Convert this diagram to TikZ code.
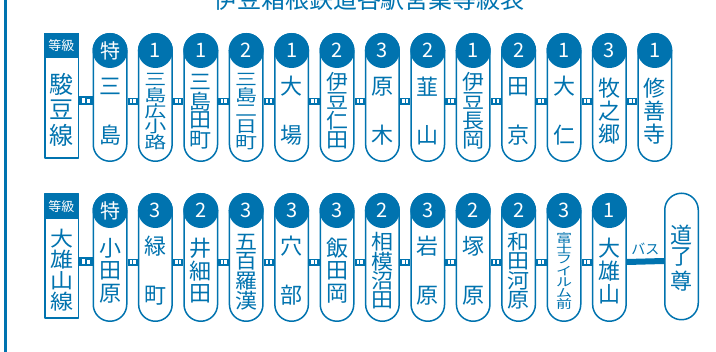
\documentclass[tikz,border=0pt]{standalone}
\usepackage{fontspec}
\setmainfont{Noto Sans CJK JP}
\usepackage{graphicx}
\usepackage{xcolor}
\usepackage{tikz}
\usetikzlibrary{calc,positioning}
\definecolor{izublue}{RGB}{0,115,175}

\tikzset{
  pill/.style={draw=izublue,line width=1.5pt,fill=white,rounded corners=16.75pt,
    minimum width=33.5pt,minimum height=127.5pt,inner sep=0pt},
  grade/.style={circle,fill=izublue,text=white,minimum size=35pt,inner sep=0pt,
    font=\fontsize{20}{20}\selectfont},
  kanji/.style={text=izublue,inner sep=0pt,font=\fontsize{#1}{#1}\selectfont},
  linebox/.style={draw=izublue,line width=1.5pt,fill=white,minimum width=33.5pt,
    minimum height=124.5pt,inner sep=0pt},
  linetag/.style={fill=izublue,text=white,minimum width=35pt,minimum height=25pt,
    inner sep=0pt,font=\fontsize{13}{13}\selectfont},
}
% rail tie between two stations, #3 = drop below centre
\newcommand{\railtie}[3]{%
  \fill[izublue] ($(#1.east)+(0,#3-3.5)$) rectangle ($(#2.west)+(0,#3+3.5)$);
  \fill[white] ($(#1.east)!0.22!(#2.west)+(0,#3-2)$) rectangle ($(#1.east)!0.46!(#2.west)+(0,#3+2)$);
  \fill[white] ($(#1.east)!0.56!(#2.west)+(0,#3-2)$) rectangle ($(#1.east)!0.80!(#2.west)+(0,#3+2)$);
}

\begin{document}
\begin{tikzpicture}[x=1pt,y=-1pt,line cap=round,line join=round]
\useasboundingbox (0,0) rectangle (716,352);
\draw[izublue,line width=2.5pt] (5.5,-2) -- (5.5,354);
\node[anchor=south,text=izublue,inner sep=0pt,font=\fontsize{24}{24}\selectfont] (title) at (369,11) {伊豆箱根鉄道各駅営業等級表};

% --- row 1
\node[linebox] (box1) at (61.5,96) {};
\node[linetag] (tag1) at (61.5,45.5) {等級};
\foreach \c/\y [count=\i] in {駿/84.5,豆/110,線/135.5}
  \node[kanji=24] (l1-\i) at (61.5,\y) {\c};
\foreach \k/\g/\n/\nm in {0/特/2/{三,島},1/1/5/{三,島,広,小,路},2/1/4/{三,島,田,町},
    3/2/5/{三,島,二,日,町},4/1/2/{大,場},5/2/4/{伊,豆,仁,田},6/3/2/{原,木},
    7/2/2/{韮,山},8/1/4/{伊,豆,長,岡},9/2/2/{田,京},10/1/2/{大,仁},
    11/3/3/{牧,之,郷},12/1/3/{修,善,寺}}{
  \pgfmathsetmacro{\cx}{110+45.4*\k}
  \node[pill] (s1-\k) at (\cx,97.5) {};
  \node[grade] (g1-\k) at (\cx,50.5) {\g};
  \pgfmathsetmacro{\fs}{\n>6 ? 16 : 22}
  \pgfmathsetmacro{\sy}{\n>3 ? min(1,78/\n/(\fs*0.95)) : 1}
  \foreach \c [count=\i] in \nm {
    \pgfmathsetmacro{\cy}{\n==2 ? 111+(2*\i-3)*24.5 : (\n==3 ? 111+(\i-2)*23 : 72+(\i-0.5)*78/\n)}
    \node[kanji=\fs] (c1-\k-\i) at (\cx,\cy) {\scalebox{1}[\sy]{\c}};
  }
}
\railtie{box1}{s1-0}{4}
\foreach \k [evaluate=\k as \j using int(\k+1)] in {0,...,11}{
  \railtie{s1-\k}{s1-\j}{4}
}

% --- row 2
\node[linebox] (box2) at (61.5,256) {};
\node[linetag] (tag2) at (61.5,206.5) {等級};
\foreach \c/\y [count=\i] in {大/238.5,雄/259.5,山/280.5,線/301.5}
  \node[kanji=23] (l2-\i) at (61.5,\y) {\scalebox{1}[0.9]{\c}};
\foreach \k/\g/\n/\nm in {0/特/3/{小,田,原},1/3/2/{緑,町},2/2/3/{井,細,田},
    3/3/4/{五,百,羅,漢},4/3/2/{穴,部},5/3/3/{飯,田,岡},6/2/4/{相,模,沼,田},
    7/3/2/{岩,原},8/2/2/{塚,原},9/2/4/{和,田,河,原},
    10/3/7/{富,士,フ,イ,ル,ム,前},11/1/3/{大,雄,山}}{
  \pgfmathsetmacro{\cx}{110+45.4*\k}
  \node[pill] (s2-\k) at (\cx,257.5) {};
  \node[grade] (g2-\k) at (\cx,210.5) {\g};
  \pgfmathsetmacro{\fs}{\n>6 ? 16 : 22}
  \pgfmathsetmacro{\sy}{\n>3 ? min(1,78/\n/(\fs*0.95)) : 1}
  \foreach \c [count=\i] in \nm {
    \pgfmathsetmacro{\cy}{\n==2 ? 271+(2*\i-3)*24.5 : (\n==3 ? 271+(\i-2)*23 : 232+(\i-0.5)*78/\n)}
    \node[kanji=\fs] (c2-\k-\i) at (\cx,\cy) {\scalebox{1}[\sy]{\c}};
  }
}
\node[pill,minimum height=126.5pt] (dor) at (681.5,256.5) {};
\foreach \c/\y [count=\i] in {道/235,了/257,尊/281}
  \node[kanji=22] (d-\i) at (681.5,\y) {\c};
\railtie{box2}{s2-0}{5}
\foreach \k [evaluate=\k as \j using int(\k+1)] in {0,...,10}{
  \railtie{s2-\k}{s2-\j}{5}
}
\draw[izublue,line width=6pt,line cap=butt] ($(s2-11.east)+(0,4.5)$) -- ($(dor.west)+(0,4.5)$)
  node[midway,above=4pt,kanji=14] (bus) {バス};
\end{tikzpicture}
\end{document}
